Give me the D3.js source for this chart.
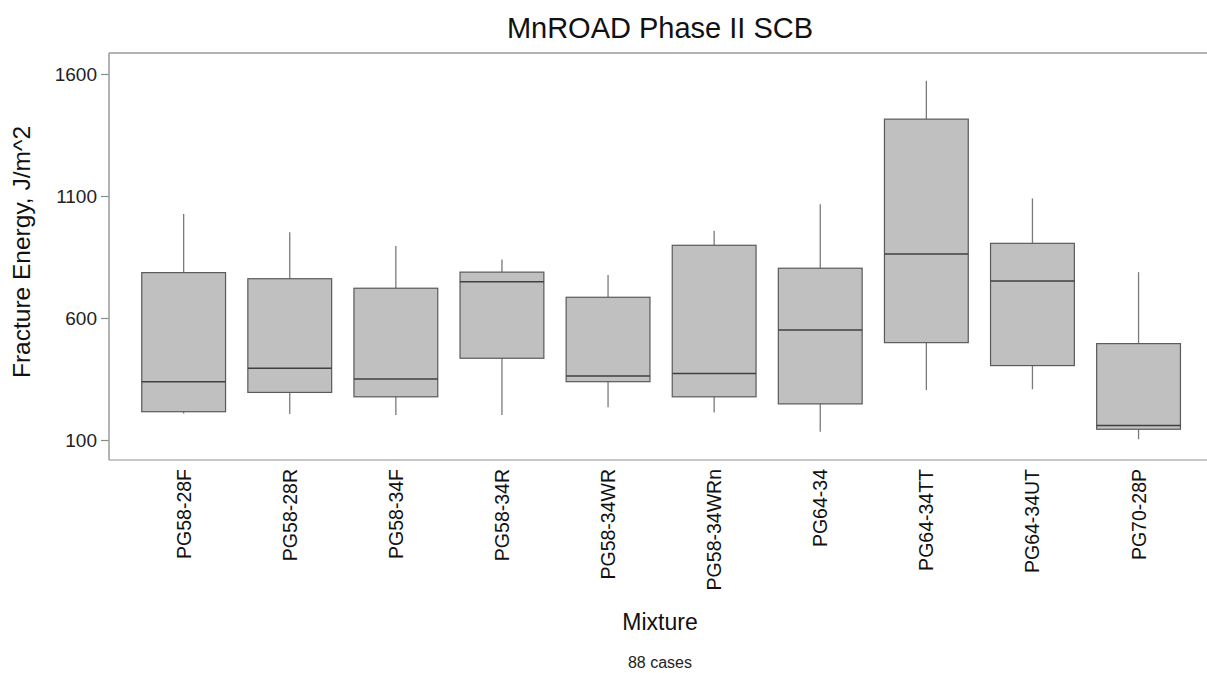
<!DOCTYPE html>
<html>
<head>
<meta charset="utf-8">
<script src="https://cdn.jsdelivr.net/npm/d3@7"></script>
<style>
  body { margin: 0; background: #fff; }
  text { font-family: "Liberation Sans", Arial, sans-serif; }
</style>
</head>
<body>
<svg id="chart"></svg>
<script>
// Box plot: fracture energy by mixture
const width = 1207;
const height = 673;

const mixtures = ["PG58-28F", "PG58-28R", "PG58-34F", "PG58-34R", "PG58-34WR",
    "PG58-34WRn", "PG64-34", "PG64-34TT", "PG64-34UT", "PG70-28P"];
const whiskerLow = [209, 207, 202, 202, 234, 213, 134, 305, 308, 103];
const q1 = [216, 295, 277, 435, 339, 277, 248, 499, 405, 144];
const medians = [339, 394, 350, 749, 362, 373, 551, 862, 752, 159];
const q3 = [786, 761, 722, 788, 685, 898, 804, 1415, 906, 495];
const whiskerHigh = [1026, 951, 895, 840, 776, 958, 1066, 1572, 1090, 788];
const yTicks = [100, 600, 1100, 1600];

const boxes = mixtures.map((m, i) => ({
    name: m,
    lo: whiskerLow[i], q1: q1[i], med: medians[i], q3: q3[i], hi: whiskerHigh[i]
}));

const frameLeft = 109, frameTop = 53, frameBottom = 460;

const svg = d3.select("#chart")
    .attr("width", width)
    .attr("height", height);

const x = d3.scaleBand()
    .domain(mixtures)
    .range([130.6, 1191.6])
    .padding(0);

const y = d3.scaleLinear()
    .domain([100, 1600])
    .range([440, 74]);

const boxW = x.bandwidth() * 0.79;

// frame: top, left, bottom
svg.append("line")
    .attr("x1", frameLeft).attr("x2", width)
    .attr("y1", frameTop).attr("y2", frameTop)
    .attr("stroke", "#9a9a9a").attr("stroke-width", 1.5);
svg.append("line")
    .attr("x1", frameLeft).attr("x2", width)
    .attr("y1", frameBottom).attr("y2", frameBottom)
    .attr("stroke", "#b5b5b5").attr("stroke-width", 1.5);

const yAxis = svg.append("g")
    .attr("transform", `translate(${frameLeft},0)`)
    .call(d3.axisLeft(y).tickValues(yTicks).tickSize(8).tickPadding(4).tickFormat(d3.format("d")));
yAxis.select(".domain").remove();
yAxis.selectAll(".tick line").attr("stroke", "#8a8a8a").attr("stroke-width", 1.2);
yAxis.selectAll(".tick text")
    .attr("font-size", 19)
    .attr("fill", "#222")
    .attr("font-family", "Liberation Sans, Arial, sans-serif");
svg.append("line")
    .attr("x1", frameLeft).attr("x2", frameLeft)
    .attr("y1", frameTop).attr("y2", frameBottom)
    .attr("stroke", "#9a9a9a").attr("stroke-width", 1.5);

const g = svg.append("g");

const box = g.selectAll("g.box")
    .data(boxes)
    .enter().append("g")
    .attr("class", "box")
    .attr("transform", d => `translate(${x(d.name) + x.bandwidth() / 2},0)`);

// whiskers
box.append("line")
    .attr("x1", 0).attr("x2", 0)
    .attr("y1", d => y(d.hi)).attr("y2", d => y(d.q3))
    .attr("stroke", "#7a7a7a").attr("stroke-width", 1.3);
box.append("line")
    .attr("x1", 0).attr("x2", 0)
    .attr("y1", d => y(d.q1)).attr("y2", d => y(d.lo))
    .attr("stroke", "#7a7a7a").attr("stroke-width", 1.3);

box.append("rect")
    .attr("x", -boxW / 2)
    .attr("width", boxW)
    .attr("y", d => y(d.q3))
    .attr("height", d => y(d.q1) - y(d.q3))
    .attr("fill", "#c0c0c0")
    .attr("stroke", "#5a5a5a")
    .attr("stroke-width", 1.2);

box.append("line")
    .attr("x1", -boxW / 2).attr("x2", boxW / 2)
    .attr("y1", d => y(d.med)).attr("y2", d => y(d.med))
    .attr("stroke", "#404040").attr("stroke-width", 1.5);

// x tick labels (rotated)
svg.selectAll("text.xlab")
    .data(mixtures)
    .enter().append("text")
    .attr("class", "xlab")
    .attr("transform", d => `translate(${x(d) + x.bandwidth() / 2 + 7},${469}) rotate(-90)`)
    .attr("text-anchor", "end")
    .attr("font-size", 19.5)
    .attr("fill", "#111")
    .text(d => d);

// titles
svg.append("text")
    .attr("x", 660).attr("y", 38)
    .attr("text-anchor", "middle")
    .attr("font-size", 29)
    .attr("fill", "#111")
    .text("MnROAD Phase II SCB");

svg.append("text")
    .attr("transform", "translate(30,252) rotate(-90)")
    .attr("text-anchor", "middle")
    .attr("font-size", 24.5)
    .attr("fill", "#111")
    .text("Fracture Energy, J/m^2");

svg.append("text")
    .attr("x", 660).attr("y", 630)
    .attr("text-anchor", "middle")
    .attr("font-size", 23)
    .attr("fill", "#111")
    .text("Mixture");

svg.append("text")
    .attr("x", 660).attr("y", 668)
    .attr("text-anchor", "middle")
    .attr("font-size", 16)
    .attr("fill", "#222")
    .text("88 cases");
</script>
</body>
</html>
